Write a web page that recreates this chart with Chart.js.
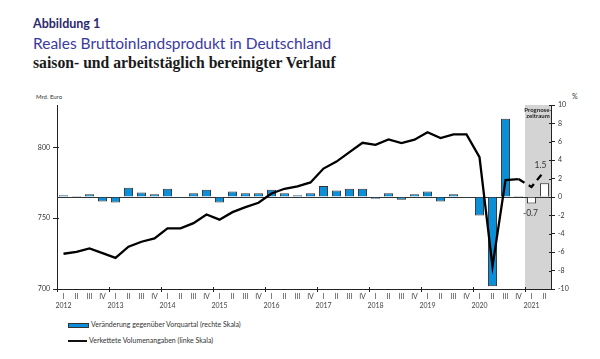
<!DOCTYPE html>
<html>
<head>
<meta charset="utf-8">
<script src="https://cdn.jsdelivr.net/npm/chart.js@4.4.0/dist/chart.umd.min.js"></script>
<style>
body{margin:0;width:600px;height:359px;position:relative;background:#fff;overflow:hidden;font-family:Lato,"Noto Sans",sans-serif}
#chart{position:absolute;left:0;top:0}
.t{position:absolute;white-space:nowrap;line-height:1}
#h1{left:33px;top:18px;font-size:12.5px;font-weight:bold;color:#2c2a6e}
#h2{left:33px;top:36px;font-size:15.5px;color:#3b3a9e}
#h3{left:33px;top:55px;font-size:15.7px;font-family:"Liberation Serif",serif;font-weight:bold;color:#1a1a1a}
#unitL{left:36px;top:94px;font-size:6px;color:#333}
#unitR{left:572px;top:93px;font-size:7px;color:#333}
.lg{position:absolute;left:68px;font-size:7px;color:#333;white-space:nowrap}
.sw{display:inline-block;width:19px;vertical-align:middle;margin-right:2px}
</style>
</head>
<body>
<div class="t" id="h1">Abbildung 1</div>
<div class="t" id="h2">Reales Bruttoinlandsprodukt in Deutschland</div>
<div class="t" id="h3">saison- und arbeitstäglich bereinigter Verlauf</div>
<div class="t" id="unitL">Mrd. Euro</div>
<div class="t" id="unitR">%</div>
<div class="lg" style="top:320px"><span class="sw" style="height:3px;background:#0a8fd8;border:1px solid #333"></span>Veränderung gegenüber Vorquartal (rechte Skala)</div>
<div class="lg" style="top:336px"><span class="sw" style="height:2px;background:#111"></span>Verkettete Volumenangaben (linke Skala)</div>
<canvas id="chart" width="600" height="359"></canvas>
<script>
const years = [2012, 2013, 2014, 2015, 2016, 2017, 2018, 2019, 2020, 2021];
const quarterNames = ['I', 'II', 'III', 'IV'];

// Veränderung gegenüber Vorquartal in % (rechte Skala)
const changeQoQ = [
  0.2, 0.1, 0.3, -0.5,
  -0.6, 1.0, 0.5, 0.3,
  0.9, -0.1, 0.4, 0.8,
  -0.6, 0.6, 0.4, 0.4,
  0.8, 0.4, 0.2, 0.4,
  1.2, 0.7, 0.9, 0.9,
  -0.2, 0.4, -0.3, 0.3,
  0.6, -0.5, 0.3, -0.1,
  -2.0, -9.7, 8.5, 0.1,
  -0.7, 1.5
];

// Verkettete Volumenangaben in Mrd. Euro (linke Skala)
const volume = [
  724.9, 726.3, 728.7, 725.4,
  722.0, 729.9, 733.4, 735.8,
  742.9, 742.9, 746.5, 752.6,
  749.0, 754.3, 757.8, 760.9,
  767.5, 770.8, 772.5, 775.3,
  785.1, 790.0, 796.7, 803.3,
  801.9, 805.7, 803.1, 805.5,
  810.7, 806.6, 809.2, 809.2,
  793.1, 716.0, 777.0, 777.7,
  772.1, 783.5
];

const forecastStart = 36; // 2021 I

const labels = [];
years.forEach(y => {
  quarterNames.forEach((q, i) => {
    if (labels.length < changeQoQ.length) labels.push([q, i === 0 ? String(y) : '']);
  });
});

const barColors = changeQoQ.map((v, i) => i >= forecastStart ? '#ffffff' : '#0a8fd8');

const extras = {
  id: 'extras',
  beforeDatasetsDraw(chart) {
    const {ctx, chartArea, scales} = chart;
    const w = scales.x.width / labels.length;
    const left = scales.x.getPixelForValue(forecastStart) - w / 2;
    ctx.save();
    ctx.fillStyle = '#d4d4d4';
    ctx.fillRect(left, chartArea.top, chartArea.right - left, chartArea.bottom - chartArea.top);
    const y0 = Math.round(scales.y1.getPixelForValue(0)) + 0.5;
    ctx.strokeStyle = '#333';
    ctx.lineWidth = 1;
    ctx.beginPath();
    ctx.moveTo(chartArea.left, y0);
    ctx.lineTo(chartArea.right, y0);
    ctx.stroke();
    ctx.fillStyle = '#222';
    ctx.font = 'bold 6px Lato';
    ctx.textAlign = 'center';
    const cx = (left + chartArea.right) / 2;
    ctx.fillText('Prognose-', cx, chartArea.top + 6.5);
    ctx.fillText('zeitraum', cx, chartArea.top + 13);
    // inner tick marks
    ctx.strokeStyle = '#222';
    ctx.beginPath();
    for (let i = 0; i <= labels.length; i += 4) {
      const x = Math.round(chartArea.left + i * w) + 0.5;
      ctx.moveTo(x, chartArea.bottom);
      ctx.lineTo(x, chartArea.bottom - 2);
    }
    scales.y.ticks.forEach(t => {
      const y = Math.round(scales.y.getPixelForValue(t.value)) + 0.5;
      ctx.moveTo(chartArea.left, y);
      ctx.lineTo(chartArea.left + 2, y);
    });
    scales.y1.ticks.forEach(t => {
      const y = Math.round(scales.y1.getPixelForValue(t.value)) + 0.5;
      ctx.moveTo(chartArea.right, y);
      ctx.lineTo(chartArea.right - 2, y);
    });
    ctx.stroke();
    ctx.restore();
  },
  afterDatasetsDraw(chart) {
    const {ctx} = chart;
    const meta = chart.getDatasetMeta(0);
    ctx.save();
    ctx.fillStyle = '#333';
    ctx.font = '8.5px Lato';
    ctx.textAlign = 'center';
    ctx.textBaseline = 'middle';
    for (let i = forecastStart; i < changeQoQ.length; i++) {
      const bar = meta.data[i];
      const v = changeQoQ[i];
      const txt = v.toFixed(1);
      if (v >= 0) ctx.fillText(txt, bar.x - 4, bar.y - 18);
      else ctx.fillText(txt, bar.x - 1, bar.y + 10);
    }
    ctx.restore();
  }
};

new Chart(document.getElementById('chart'), {
  data: {
    labels,
    datasets: [{
      type: 'bar',
      label: 'Veränderung gegenüber Vorquartal (rechte Skala)',
      data: changeQoQ,
      yAxisID: 'y1',
      backgroundColor: barColors,
      borderColor: '#333',
      borderWidth: 1,
      barPercentage: 0.7,
      categoryPercentage: 1,
      order: 2
    }, {
      type: 'line',
      label: 'Verkettete Volumenangaben (linke Skala)',
      data: volume,
      yAxisID: 'y',
      borderColor: '#000',
      borderWidth: 2.3,
      pointRadius: 0,
      tension: 0,
      segment: {
        borderDash: c => c.p0DataIndex >= forecastStart - 1 ? [7, 5] : undefined
      },
      order: 1
    }]
  },
  options: {
    responsive: false,
    animation: false,
    layout: {padding: {top: 105, left: 0, right: 0, bottom: 0}},
    plugins: {legend: {display: false}, tooltip: {enabled: false}},
    scales: {
      x: {
        offset: true,
        afterFit(s) { s.height = 70; },
        border: {display: true, color: '#222', width: 1},
        grid: {
          display: true,
          drawOnChartArea: false,
          offset: true,
          tickLength: 3,
          color: c => c.index % 4 === 0 ? '#222' : 'rgba(0,0,0,0)'
        },
        ticks: {
          autoSkip: false,
          maxRotation: 0,
          padding: 0,
          color: '#444',
          font: {family: 'Lato', size: 7, lineHeight: 1.3}
        }
      },
      y: {
        position: 'left',
        min: 700,
        max: 830,
        afterFit(s) { s.width = 57; },
        afterBuildTicks(s) { s.ticks = s.ticks.filter(t => t.value % 50 === 0); },
        border: {display: true, color: '#222', width: 1},
        grid: {drawOnChartArea: false, tickLength: 4, color: '#222'},
        ticks: {stepSize: 50, padding: 3, color: '#333', font: {family: 'Lato', size: 7}}
      },
      y1: {
        position: 'right',
        min: -10,
        max: 10,
        afterFit(s) { s.width = 49; },
        border: {display: true, color: '#222', width: 1},
        grid: {drawOnChartArea: false, tickLength: 4, color: '#222'},
        ticks: {stepSize: 2, padding: 3, color: '#333', font: {family: 'Lato', size: 7}}
      }
    }
  },
  plugins: [extras]
});
</script>
</body>
</html>
